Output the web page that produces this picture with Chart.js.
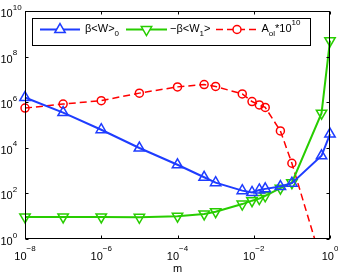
<!DOCTYPE html>
<html>
<head>
<meta charset="utf-8">
<script src="https://cdn.jsdelivr.net/npm/chart.js@4/dist/chart.umd.min.js"></script>
<style>
html,body{margin:0;padding:0;background:#fff;}
canvas{display:block;}
</style>
</head>
<body>
<canvas id="c" width="338" height="277"></canvas>
<script>
// ---- data ----
const mValues   = [1e-8, 1e-7, 1e-6, 1e-5, 1e-4, 5e-4, 1e-3, 5e-3, 9e-3, 1.4e-2, 2e-2, 5e-2, 1e-1, 0.6, 1];
const betaW0    = [1.6e6, 3.5e5, 6.2e4, 9.8e3, 1.8e3, 510, 295, 132, 110, 141, 158, 200, 282, 4470, 4.0e4];
const minusBetaW1 = [9.3, 9.3, 9.3, 8.9, 10, 12.6, 15.8, 34, 48, 59, 78, 170, 295, 3.3e5, 5.0e8];
const AolScaled = [5.5e5, 8.3e5, 1.17e6, 2.5e6, 4.7e6, 5.9e6, 4.9e6, 2.3e6, 1.07e6, 7.6e5, 5.9e5, 5.5e4, 2.1e3, 0.1, null];
const xTickValues = [1e-8, 1e-6, 1e-4, 1e-2, 1];
const xTickLabels = ['10^−8', '10^−6', '10^−4', '10^−2', '10^0'];
const yTickValues = [1, 1e2, 1e4, 1e6, 1e8, 1e10];
const yTickLabels = ['10^0', '10^2', '10^4', '10^6', '10^8', '10^10'];
const xAxisTitle = 'm';

const BLUE = 'rgb(30,60,255)';
const GREEN = 'rgb(40,205,0)';
const RED = 'rgb(255,0,0)';
const FONT = '"Liberation Sans", Arial, Helvetica, sans-serif';

function pts(arr){ return mValues.map((m,i)=>({x:m, y:arr[i]})); }

function drawRich(ctx, parts, x, baseY){
  // parts: [text, size, dy]
  let cx = x;
  parts.forEach(([t, size, dy])=>{
    ctx.font = size + 'px ' + FONT;
    ctx.fillText(t, cx, baseY + dy);
    cx += ctx.measureText(t).width;
  });
  return cx;
}

const matlabAxes = {
  id: 'matlabAxes',
  afterDatasetsDraw(chart){
    const {ctx, chartArea:a, scales} = chart;
    const xs = scales.x, ys = scales.y;
    ctx.save();
    ctx.strokeStyle = '#000';
    ctx.lineWidth = 1;
    const L = Math.round(a.left) + 0.5, R = Math.round(a.right) - 0.5;
    const T = Math.round(a.top) + 0.5, B = Math.round(a.bottom) - 0.5;
    ctx.beginPath();
    xTickValues.forEach(v=>{
      const px = Math.round(xs.getPixelForValue(v)) + 0.5;
      ctx.moveTo(px, B); ctx.lineTo(px, B - 3);
      ctx.moveTo(px, T); ctx.lineTo(px, T + 3);
    });
    yTickValues.forEach(v=>{
      const py = Math.round(ys.getPixelForValue(v)) + 0.5;
      ctx.moveTo(L, py); ctx.lineTo(L + 3, py);
      ctx.moveTo(R, py); ctx.lineTo(R - 3, py);
    });
    ctx.stroke();
    ctx.strokeRect(L, T, R - L, B - T);

    // tick labels
    ctx.fillStyle = '#000';
    ctx.textBaseline = 'alphabetic';
    ctx.textAlign = 'left';
    const baseSize = 11, expSize = 8;
    xTickLabels.forEach((lab, i)=>{
      const [b, e] = lab.split('^');
      ctx.font = baseSize + 'px ' + FONT;
      const wb = ctx.measureText(b).width;
      ctx.font = expSize + 'px ' + FONT;
      const we = ctx.measureText(e).width;
      const px = xs.getPixelForValue(xTickValues[i]);
      const x0 = px - (wb + we) / 2;
      drawRich(ctx, [[b, baseSize, 0], [e, expSize, -8.5]], x0, 259.5);
    });
    yTickLabels.forEach((lab, i)=>{
      const [b, e] = lab.split('^');
      const py = ys.getPixelForValue(yTickValues[i]);
      drawRich(ctx, [[b, baseSize, 0], [e, expSize, -7.5]], 0.5, py + 6);
    });
    // axis title
    ctx.font = '11px ' + FONT;
    ctx.textAlign = 'center';
    ctx.fillText(xAxisTitle, (a.left + a.right) / 2, 272);
    ctx.textAlign = 'left';

    // legend box
    ctx.fillStyle = '#fff';
    ctx.fillRect(32.5, 18.5, 278, 27);
    ctx.strokeRect(32.5, 18.5, 278, 27);
    const ly = 29.5;
    // blue sample
    ctx.lineWidth = 2; ctx.strokeStyle = BLUE;
    ctx.beginPath(); ctx.moveTo(40, ly); ctx.lineTo(80, ly); ctx.stroke();
    ctx.lineWidth = 1.5;
    Chart.helpers.drawPoint(ctx, {pointStyle:'triangle', radius:6, rotation:0, borderWidth:1.5}, 60, ly);
    ctx.strokeStyle = BLUE; ctx.lineWidth = 1.5;
    ctx.beginPath();
    // green sample
    ctx.lineWidth = 2; ctx.strokeStyle = GREEN;
    ctx.beginPath(); ctx.moveTo(126, ly); ctx.lineTo(167, ly); ctx.stroke();
    ctx.lineWidth = 1.5;
    Chart.helpers.drawPoint(ctx, {pointStyle:'triangle', radius:6, rotation:180, borderWidth:1.5}, 146.5, ly);
    // red sample
    ctx.lineWidth = 1.5; ctx.strokeStyle = RED;
    ctx.setLineDash([7,4]);
    ctx.beginPath(); ctx.moveTo(216, ly); ctx.lineTo(257, ly); ctx.stroke();
    ctx.setLineDash([]);
    Chart.helpers.drawPoint(ctx, {pointStyle:'circle', radius:4, rotation:0, borderWidth:1.5}, 237, ly);

    // legend text
    ctx.fillStyle = '#000';
    const tb = 32;
    drawRich(ctx, [['β<W>', 11, 0], ['0', 8, 4]], 85, tb);
    drawRich(ctx, [['−β<W', 11, 0], ['1', 8, 4], ['>', 11, 0]], 170, tb);
    drawRich(ctx, [['A', 11, 0], ['ol', 8, 4], ['*10', 11, 0], ['10', 8, -7]], 261.5, tb);
    ctx.restore();
  }
};

new Chart(document.getElementById('c'), {
  type: 'line',
  data: {
    datasets: [
      {
        label: 'β<W>0', data: pts(betaW0),
        borderColor: BLUE, borderWidth: 2,
        pointStyle: 'triangle', pointRadius: 6, pointBorderWidth: 1.5,
        pointBorderColor: BLUE, pointBackgroundColor: 'rgba(0,0,0,0)',
        clip: false, tension: 0
      },
      {
        label: '−β<W1>', data: pts(minusBetaW1),
        borderColor: GREEN, borderWidth: 2,
        pointStyle: 'triangle', pointRotation: 180, pointRadius: 6, pointBorderWidth: 1.5,
        pointBorderColor: GREEN, pointBackgroundColor: 'rgba(0,0,0,0)',
        clip: false, tension: 0
      },
      {
        label: 'Aol*10^10', data: pts(AolScaled),
        borderColor: RED, borderWidth: 1.5, borderDash: [7, 4],
        pointStyle: 'circle', pointRadius: 4, pointBorderWidth: 1.5,
        pointBorderColor: RED, pointBackgroundColor: 'rgba(0,0,0,0)',
        clip: {left: 8, right: 8, top: 8, bottom: 0}, tension: 0, spanGaps: false
      }
    ]
  },
  options: {
    responsive: false,
    animation: false,
    devicePixelRatio: 1,
    layout: {padding: {left: 25, right: 8, top: 11, bottom: 38}},
    plugins: {legend: {display: false}, tooltip: {enabled: false}},
    scales: {
      x: {type: 'logarithmic', min: 1e-8, max: 1, display: false},
      y: {type: 'logarithmic', min: 1, max: 1e10, display: false}
    }
  },
  plugins: [matlabAxes]
});
</script>
</body>
</html>
